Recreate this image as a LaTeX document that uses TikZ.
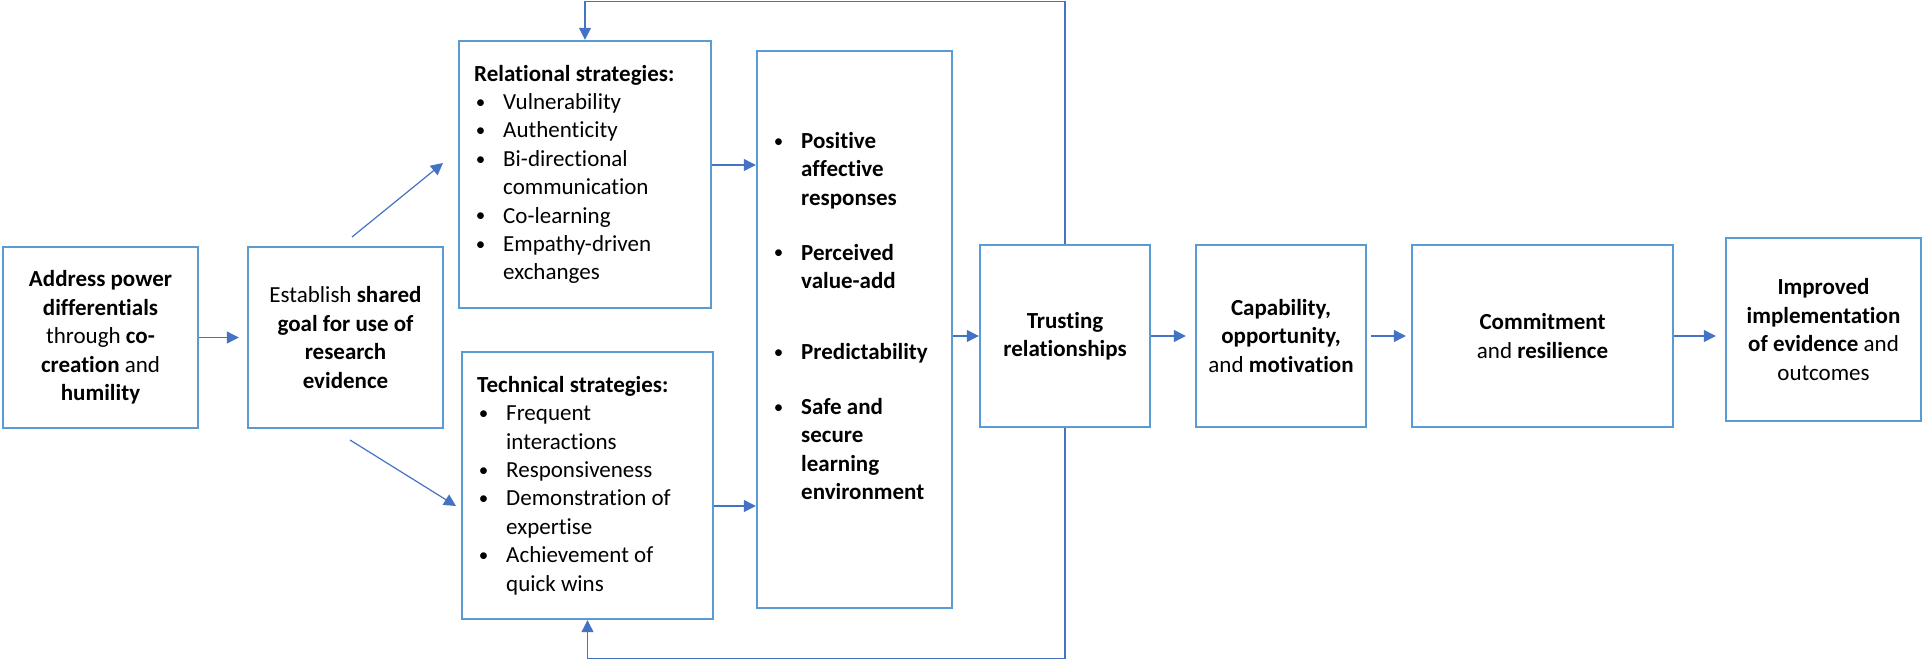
\documentclass[tikz,border=0pt]{standalone}
\usepackage{fontspec}
\setmainfont{Carlito}[Ligatures = NoCommon]
\usepackage{xcolor}
\definecolor{bleucadre}{RGB}{91,155,213}
\definecolor{bleufleche}{RGB}{68,114,196}
\usetikzlibrary{arrows.meta, calc}
\tikzstyle{cadre} = [draw = bleucadre, line width = 1.2pt, align = center, inner sep = 0pt]
\tikzstyle{fleche} = [-{Triangle[length = 6pt, width = 6pt]}, line width = 0.6pt, color = bleufleche]
\tikzstyle{liste} = [align = left, inner sep = 0pt, anchor = west]
\newcommand{\puce}{\makebox[14.5pt][l]{\hspace{0.8pt}\raisebox{0.6pt}{\fontsize{9.5}{9}\selectfont\textbullet}}}
\newcommand{\suite}{\hspace*{14.5pt}}

\begin{document}
\begin{tikzpicture}[x = 0.5pt, y = -0.5pt, every node/.style = {font = \fontsize{11.5}{14.2}\selectfont}]
	\useasboundingbox (0, 0) rectangle (1925, 662);
	% Boites de gauche
	\node[cadre, minimum width = 97.5pt, minimum height = 90.5pt] (power) at (100.5, 337.5) {\textbf{Address power}\\ \textbf{differentials}\\ through \textbf{co-}\\ \textbf{creation} and\\ \textbf{humility}};
	\node[cadre, minimum width = 97.5pt, minimum height = 90.5pt] (goal) at (345.5, 337.5) {Establish \textbf{shared}\\ \textbf{goal for use of}\\ \textbf{research}\\ \textbf{evidence}};
	% Strategies
	\node[cadre, minimum width = 126pt, minimum height = 133.5pt] (rel) at (585, 174.5) {};
	\node[liste] (rellist) at ([xshift = 8pt]rel.west) {\textbf{Relational strategies:}\\ \puce Vulnerability\\ \puce Authenticity\\ \puce Bi-directional\\ \suite communication\\ \puce Co-learning\\ \puce Empathy-driven\\ \suite exchanges};
	\node[cadre, minimum width = 125.5pt, minimum height = 133.5pt] (tech) at (587.5, 485.5) {};
	\node[liste] (techlist) at ([xshift = 8pt]tech.west) {\textbf{Technical strategies:}\\ \puce Frequent\\ \suite interactions\\ \puce Responsiveness\\ \puce Demonstration of\\ \suite expertise\\ \puce Achievement of\\ \suite quick wins};
	% Boite du milieu
	\node[cadre, minimum width = 97.5pt, minimum height = 278.5pt] (mid) at (854.5, 329.5) {};
	\node[liste] (midlist) at ([xshift = 8pt, yshift = 6.75pt]mid.west) {\puce\textbf{Positive}\\ \suite\textbf{affective}\\ \suite\textbf{responses}\\[13.3pt] \puce\textbf{Perceived}\\ \suite\textbf{value-add}\\[21.3pt] \puce\textbf{Predictability}\\[13.3pt] \puce\textbf{Safe and}\\ \suite\textbf{secure}\\ \suite\textbf{learning}\\ \suite\textbf{environment}};
	% Boites de droite
	\node[cadre, minimum width = 85pt, minimum height = 91pt] (trust) at (1065, 336) {\textbf{Trusting}\\ \textbf{relationships}};
	\node[cadre, minimum width = 85pt, minimum height = 91pt] (cap) at (1281, 336) {\textbf{Capability,}\\ \textbf{opportunity,}\\ and \textbf{motivation}};
	\node[cadre, minimum width = 130.5pt, minimum height = 91pt] (commit) at (1542.5, 336) {\textbf{Commitment}\\ and \textbf{resilience}};
	\node[cadre, minimum width = 97.5pt, minimum height = 91.5pt] (impr) at (1823.5, 329.5) {\textbf{Improved}\\ \textbf{implementation}\\ \textbf{of evidence} and\\ outcomes};
	% Fleches
	\draw[fleche, shorten > = 4pt] (power.east) -- (goal.west);
	\coordinate (d1) at (352, 237);
	\coordinate (d2) at (443, 163);
	\coordinate (d3) at (350, 440);
	\coordinate (d4) at (456, 506);
	\draw[fleche] (d1) -- (d2);
	\draw[fleche] (d3) -- (d4);
	\coordinate (r1) at ([yshift = 4.75pt]rel.east);
	\coordinate (t1) at ([yshift = -10.25pt]tech.east);
	\draw[fleche] (r1) -- (r1 -| mid.west);
	\draw[fleche] (t1) -- (t1 -| mid.west);
	\draw[fleche] (trust.west -| mid.east) -- (trust.west);
	\draw[fleche, shorten > = 4.5pt] (trust.east) -- (cap.west);
	\draw[fleche, shorten < = 2pt, shorten > = 2.5pt] (cap.east) -- (commit.west);
	\draw[fleche, shorten > = 4.5pt] (commit.east) -- (commit.east -| impr.west);
	% Retours
	\draw[fleche] (trust.north) -- ++(0, -242) -| (rel.north);
	\draw[fleche] (trust.south) -- ++(0, 230) -| (tech.south);
\end{tikzpicture}
\end{document}
